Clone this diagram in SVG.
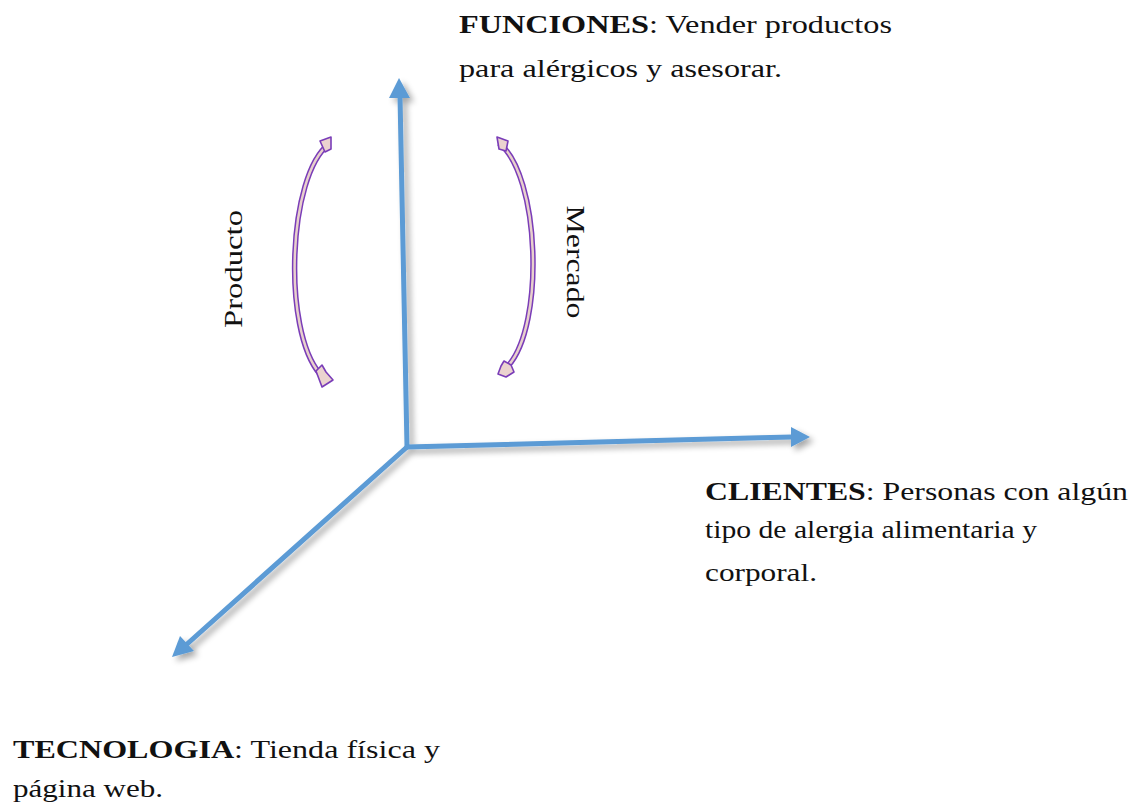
<svg xmlns="http://www.w3.org/2000/svg" width="1136" height="802" viewBox="0 0 1136 802">
  <style>
    .axis { stroke: #5B9BD5; stroke-width: 5; fill: none; stroke-linecap: round; }
    .head { fill: #5B9BD5; }
    .txt { font-family: "Liberation Serif", "Times New Roman", serif; font-size: 25px; fill: #111; }
    .b { font-weight: bold; }
    .arcOuter { stroke: #7A3DB8; stroke-width: 5.5; fill: none; }
    .arcInner { stroke: #E8D0CC; stroke-width: 2.5; fill: none; }
    .tip { fill: #EBD3CF; stroke: #7A3DB8; stroke-width: 1.6; stroke-linejoin: round; }
  </style>
  <defs>
    <filter id="shadow" x="-20%" y="-20%" width="140%" height="140%">
      <feGaussianBlur in="SourceAlpha" stdDeviation="3"/>
      <feOffset dx="4" dy="4" result="o"/>
      <feComponentTransfer><feFuncA type="linear" slope="0.35"/></feComponentTransfer>
      <feMerge><feMergeNode/><feMergeNode in="SourceGraphic"/></feMerge>
    </filter>
  </defs>
  <rect width="1136" height="802" fill="#fff"/>

  <!-- three axes from a common origin -->
  <g id="connectors" filter="url(#shadow)">
    <line class="axis" x1="407" y1="447" x2="400" y2="96"/>
    <polygon class="head" points="399,78 389,98 410,98"/>
    <line class="axis" x1="407" y1="447" x2="792" y2="437"/>
    <polygon class="head" points="810,437 791,427 791,447"/>
    <line class="axis" x1="407" y1="447" x2="186" y2="645"/>
    <polygon class="head" points="172,657 180,636 194,651"/>
  </g>

  <!-- curved arrows beside the vertical axis -->
  <g id="arc-producto">
    <path class="arcOuter" d="M329,144 C288,175 282,330 320,374"/>
    <path class="arcInner" d="M329,144 C288,175 282,330 320,374"/>
    <polygon class="tip" points="316,371 322,365 326,372 333,380 322,387"/>
    <polygon class="tip" points="320,141 331,137 331,149 325,152"/>
    <text class="txt" transform="translate(242,269) rotate(-90)" text-anchor="middle" textLength="118" lengthAdjust="spacingAndGlyphs">Producto</text>
  </g>
  <g id="arc-mercado">
    <path class="arcOuter" d="M499,143 C540,175 545,325 508,366"/>
    <path class="arcInner" d="M499,143 C540,175 545,325 508,366"/>
    <polygon class="tip" points="504,361 511,365 514,372 506,377 498,374 501,366"/>
    <polygon class="tip" points="497,137 508,141 506,151 499,149"/>
    <text class="txt" transform="translate(567,262) rotate(90)" text-anchor="middle" textLength="113" lengthAdjust="spacingAndGlyphs">Mercado</text>
  </g>

  <g id="funciones">
    <text class="txt" x="459" y="33" textLength="433" lengthAdjust="spacingAndGlyphs"><tspan class="b">FUNCIONES</tspan>: Vender productos</text>
    <text class="txt" x="459" y="77" textLength="323" lengthAdjust="spacingAndGlyphs">para alérgicos y asesorar.</text>
  </g>
  <g id="clientes">
    <text class="txt" x="705" y="500" textLength="423" lengthAdjust="spacingAndGlyphs"><tspan class="b">CLIENTES</tspan>: Personas con algún</text>
    <text class="txt" x="705" y="538" textLength="332" lengthAdjust="spacingAndGlyphs">tipo de alergia alimentaria y</text>
    <text class="txt" x="705" y="581" textLength="112" lengthAdjust="spacingAndGlyphs">corporal.</text>
  </g>
  <g id="tecnologia">
    <text class="txt" x="13" y="758" textLength="427" lengthAdjust="spacingAndGlyphs"><tspan class="b">TECNOLOGIA</tspan>: Tienda física y</text>
    <text class="txt" x="13" y="797" textLength="150" lengthAdjust="spacingAndGlyphs">página web.</text>
  </g>
</svg>
